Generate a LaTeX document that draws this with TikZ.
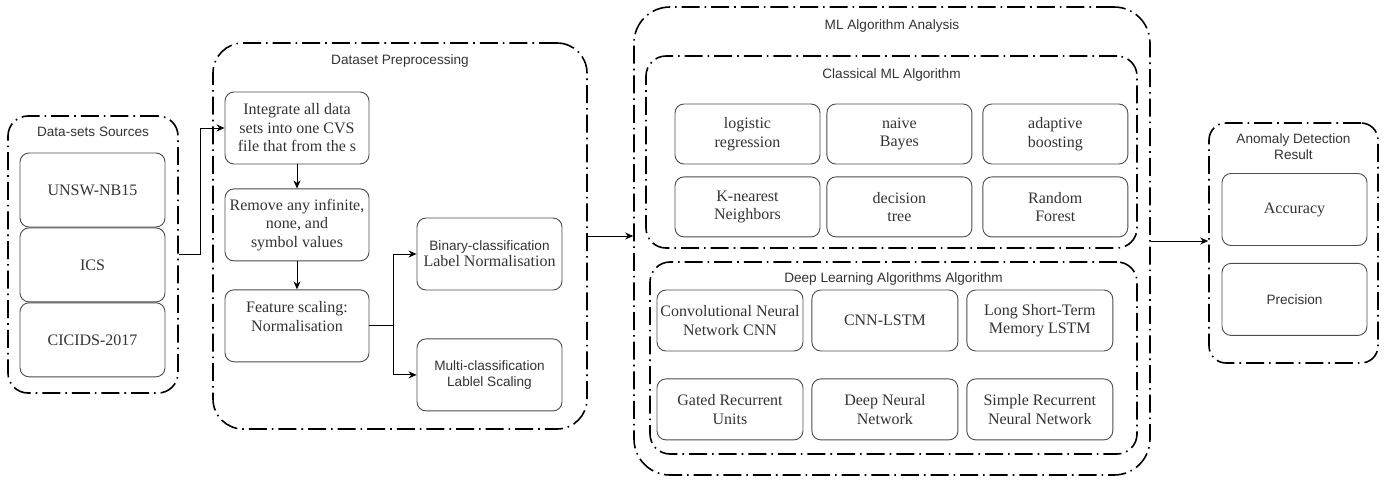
\documentclass[tikz,border=0pt]{standalone}
\usepackage{fontspec}
\setmainfont{Liberation Serif}
\setsansfont{Liberation Sans}
\usetikzlibrary{positioning,arrows.meta}

\begin{document}
\begin{tikzpicture}[x=1pt, y=-1pt,
    grp/.style = {draw, line width=1.6pt, dash pattern=on 18pt off 5pt on 1.6pt off 5pt, rounded corners=20pt},
    box/.style = {draw=black!70, line width=0.9pt, rounded corners=9pt, text=black!80, align=center, inner sep=1pt,
        font=\fontsize{16}{18.5}\selectfont, minimum width=145pt, minimum height=72pt},
    sbox/.style = {box, font=\sffamily\fontsize{13.6}{16}\selectfont},
    ttl/.style = {text=black!80, align=center, inner sep=0pt, font=\sffamily\fontsize{13.6}{16}\selectfont},
    arr/.style = {-{Stealth[length=8pt,width=7pt]}, line width=0.9pt}]
    \useasboundingbox (0,0) rectangle (1393,480);

    % groups
    \node[grp, minimum width=170pt, minimum height=277pt] (src) at (93,254.5) {};
    \node[grp, rounded corners=30pt, minimum width=374pt, minimum height=386pt] (prep) at (400,236) {};
    \node[grp, rounded corners=36pt, minimum width=516pt, minimum height=468pt] (ml) at (892,241) {};
    \node[grp, minimum width=491pt, minimum height=192pt] (classic) at (891.5,152) {};
    \node[grp, minimum width=487pt, minimum height=192pt] (deep) at (893.5,358) {};
    \node[grp, rounded corners=17pt, minimum width=169pt, minimum height=240pt] (res) at (1293.5,243) {};

    \node[ttl, below=12pt of src.north] (src_t) {Data-sets Sources};
    \node[ttl, below=12pt of prep.north] (prep_t) {Dataset Preprocessing};
    \node[ttl, below=13pt of ml.north] (ml_t) {ML Algorithm Analysis};
    \node[ttl, below=13pt of classic.north] (classic_t) {Classical ML Algorithm};
    \node[ttl, below=11pt of deep.north] (deep_t) {Deep Learning Algorithms Algorithm};
    \node[ttl, below=11pt of res.north] (res_t) {Anomaly Detection\\Result};

    % sources
    \node[box, minimum height=74pt] (unsw) at (92.5,190) {UNSW-NB15};
    \node[box, minimum height=74pt, below=0pt of unsw] (ics) {ICS};
    \node[box, minimum height=74pt, below=0pt of ics] (cic) {CICIDS-2017};

    % preprocessing
    \node[box, minimum width=144pt] (integ) at (297,128) {Integrate all data\\sets into one CVS\\file that from the s};
    \node[box, minimum width=144pt, below=24pt of integ] (clean) {Remove any infinite,\\none, and\\symbol values};
    \node[box, minimum width=144pt, below=28pt of clean] (fscale) {Feature scaling:\\Normalisation\\\mbox{}};
    \node[sbox] (bin) at (489.5,254) {Binary-classification\\{\rmfamily\fontsize{16}{18.5}\selectfont Label Normalisation}};
    \node[sbox, below=48pt of bin] (multi) {Multi-classification\\Lablel Scaling};

    % classical ML
    \node[box, minimum height=60pt] (lr) at (747.5,134) {logistic\\regression};
    \node[box, minimum height=60pt, right=6pt of lr] (nb) {naive\\Bayes};
    \node[box, minimum height=60pt, right=10pt of nb] (ada) {adaptive\\boosting};
    \node[box, minimum height=60pt, below=12pt of lr] (knn) {K-nearest\\Neighbors};
    \node[box, minimum height=60pt, below=12pt of nb] (dt) {decision\\tree};
    \node[box, minimum height=60pt, below=12pt of ada] (rf) {Random\\Forest};

    % deep learning
    \node[box, minimum width=146pt, minimum height=61pt] (cnn) at (730,320.5) {Convolutional Neural\\Network CNN};
    \node[box, minimum width=146pt, minimum height=61pt, right=8pt of cnn] (cnnlstm) {CNN-LSTM};
    \node[box, minimum width=146pt, minimum height=61pt, right=8pt of cnnlstm] (lstm) {Long Short-Term\\Memory LSTM};
    \node[box, minimum width=146pt, minimum height=61pt, below=27pt of cnn] (gru) {Gated Recurrent\\Units};
    \node[box, minimum width=146pt, minimum height=61pt, below=27pt of cnnlstm] (dnn) {Deep Neural\\Network};
    \node[box, minimum width=146pt, minimum height=61pt, below=27pt of lstm] (rnn) {Simple Recurrent\\Neural Network};

    % results
    \node[box] (acc) at (1294.5,209.5) {Accuracy};
    \node[sbox, below=17pt of acc] (prec) {Precision};

    \draw[arr] (src.east) -- ++(22,0) |- (integ.west);
    \draw[arr] (integ) -- (clean);
    \draw[arr] (clean) -- (fscale);
    \draw[arr] (fscale.east) -- ++(24,0) |- (bin.west);
    \draw[arr] (fscale.east) -- ++(24,0) |- (multi.west);
    \draw[arr] (prep.east) -- (prep.east -| ml.west);
    \draw[arr] (ml.east) -- (ml.east -| res.west);
\end{tikzpicture}
\end{document}
